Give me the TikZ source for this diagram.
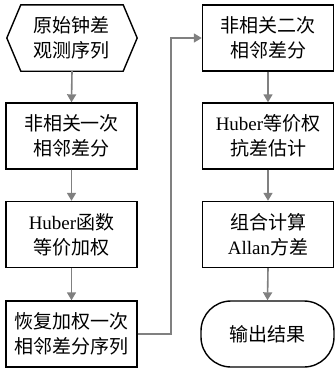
\documentclass[tikz,border=0pt]{standalone}
\usepackage{fontspec}
\setmainfont{Liberation Serif}
\newfontfamily\cjk{Noto Sans CJK SC}
\usetikzlibrary{arrows.meta}
\begin{document}
\begin{tikzpicture}[x=1pt,y=1pt,
  txt/.style={font=\fontsize{19}{25}\selectfont, align=center, inner sep=0pt},
  box/.style={txt, draw=black, line width=1.4pt, minimum width=131pt, minimum height=66pt},
  hexbox/.style={txt, minimum width=130pt, minimum height=66pt},
  term/.style={box, rounded corners=30pt, minimum width=133pt},
  flow/.style={draw=black!50, line width=1.6pt, -{Triangle[length=8pt,width=9pt]}}
]
\useasboundingbox (0,0) rectangle (336,-373);
% left column
\node[hexbox] (n1) at (72,-38) {\cjk 原始钟差\\\cjk 观测序列};
\draw[line width=1.4pt] (n1.west) -- ([xshift=14pt]n1.north west) -- ([xshift=-14pt]n1.north east)
  -- (n1.east) -- ([xshift=-14pt]n1.south east) -- ([xshift=14pt]n1.south west) -- cycle;
\node[box] (n2) at (71.5,-136) {\cjk 非相关一次\\\cjk 相邻差分};
\node[box] (n3) at (71.5,-234.5) {Huber{\cjk 函数}\\\cjk 等价加权};
\node[box] (n4) at (71.5,-334) {\cjk 恢复加权一次\\\cjk 相邻差分序列};
% right column
\node[box] (n5) at (268,-38) {\cjk 非相关二次\\\cjk 相邻差分};
\node[box] (n6) at (268,-136) {Huber{\cjk 等价权}\\\cjk 抗差估计};
\node[box] (n7) at (268,-234.5) {\cjk 组合计算\\Allan{\cjk 方差}};
\node[term] (n8) at (267.5,-334) {\cjk 输出结果};
% connectors
\draw[flow] (n1.south) -- (n2.north);
\draw[flow] (n2.south) -- (n3.north);
\draw[flow] (n3.south) -- (n4.north);
\coordinate (turn) at (171,-334);
\draw[flow] (n4.east) -- (turn) |- (n5.west);
\draw[flow] (n5.south) -- (n6.north);
\draw[flow] (n6.south) -- (n7.north);
\draw[flow] (n7.south) -- (n8.north);
\end{tikzpicture}
\end{document}
